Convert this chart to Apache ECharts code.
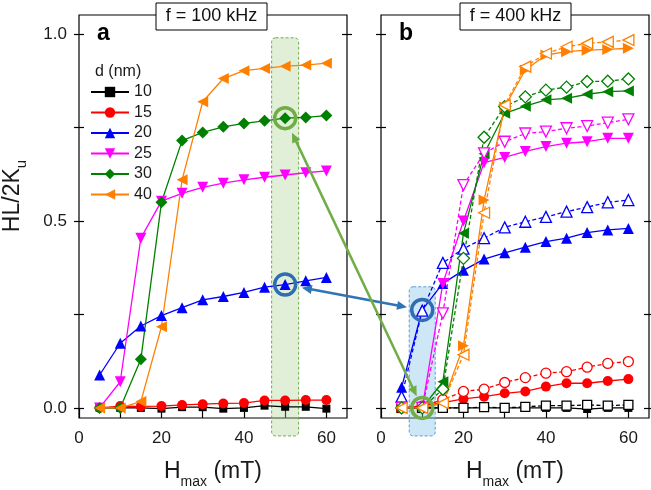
<!DOCTYPE html>
<html><head><meta charset="utf-8">
<script src="https://cdn.jsdelivr.net/npm/echarts@6/dist/echarts.min.js"></script>
<style>html,body{margin:0;padding:0;background:#fff}#c{width:651px;height:490px}</style>
</head><body><div id="c"></div>
<script>
// ---------- data ----------
const X = [5,10,15,20,25,30,35,40,45,50,55,60];
const xTicks = [0,10,20,30,40,50,60];
const xLabels = [0,20,40,60];
const yTicks = [0,0.25,0.5,0.75,1.0];
const yLabels = [0,0.5,1.0];
const legendNames = ['10','15','20','25','30','40'];
const legendTitle = 'd (nm)';
const panelTitles = ['f = 100 kHz','f = 400 kHz'];
const panelLetters = ['a','b'];

// panel a : f = 100 kHz
const a10 = [0, 0, 0, -0.002, 0.002, 0.002, -0.002, 0, 0.006, 0.003, 0.003, -0.002];
const a15 = [0, 0.005, 0.004, 0.005, 0.008, 0.010, 0.012, 0.013, 0.020, 0.020, 0.021, 0.021];
const a20 = [0.088, 0.173, 0.219, 0.247, 0.268, 0.289, 0.298, 0.309, 0.323, 0.330, 0.340, 0.349];
const a25 = [0, 0.070, 0.454, 0.553, 0.574, 0.590, 0.601, 0.610, 0.617, 0.623, 0.629, 0.634];
const a30 = [0, 0, 0.130, 0.550, 0.715, 0.737, 0.752, 0.761, 0.768, 0.775, 0.777, 0.782];
const a40 = [0, 0, 0.017, 0.217, 0.610, 0.819, 0.881, 0.902, 0.908, 0.914, 0.917, 0.922];

// panel b : f = 400 kHz (solid = filled symbols, dashed = open symbols)
const b10s = [0, 0, 0, 0, 0, 0, 0, 0, 0, -0.003, 0, 0];
const b10d = [0, 0, 0, 0, 0.002, 0, 0.003, 0.006, 0.006, 0.008, 0.006, 0.008];
const b15s = [0, 0.005, 0.014, 0.024, 0.030, 0.039, 0.044, 0.057, 0.066, 0.066, 0.072, 0.077];
const b15d = [0, 0.005, 0.022, 0.044, 0.050, 0.068, 0.081, 0.093, 0.097, 0.109, 0.119, 0.124];
const b20s = [0.055, 0.262, 0.333, 0.368, 0.398, 0.415, 0.430, 0.445, 0.454, 0.469, 0.476, 0.480];
const b20d = [0.030, 0.260, 0.388, 0.426, 0.454, 0.483, 0.498, 0.511, 0.525, 0.537, 0.550, 0.556];
const b25s = [0, 0, 0.333, 0.500, 0.656, 0.670, 0.686, 0.699, 0.708, 0.712, 0.721, 0.721];
const b25d = [0, 0, 0.253, 0.596, 0.681, 0.712, 0.734, 0.739, 0.748, 0.754, 0.763, 0.772];
const b30s = [0, 0, 0.070, 0.467, 0.680, 0.788, 0.807, 0.824, 0.828, 0.839, 0.846, 0.848];
const b30d = [0, 0, 0.050, 0.400, 0.724, 0.806, 0.832, 0.850, 0.858, 0.873, 0.874, 0.880];
const b40s = [0, 0, 0.013, 0.166, 0.556, 0.805, 0.904, 0.944, 0.953, 0.957, 0.959, 0.962];
const b40d = [0, 0, 0.013, 0.142, 0.522, 0.810, 0.913, 0.948, 0.966, 0.975, 0.979, 0.984];

// highlighted points: [grid, x, y]
const hlBlue = [[0, 50, 0.330], [1, 10, 0.262]];
const hlGreen = [[0, 50, 0.775], [1, 10, 0.0]];

// ---------- styling ----------
const FF = '"Liberation Sans", Arial, Helvetica, sans-serif';
const C = {k:'#000000', r:'#ff0000', b:'#0000ff', m:'#ff00ff', g:'#008000', o:'#ff8000'};
const GRID_TOP = 15, GRID_H = 403, GRID_W = 268;
const gridLefts = [79, 381];

const chart = echarts.init(document.getElementById('c'), null, {renderer:'canvas'});

function pairs(v){ return X.map((x,i)=>[x, v[i]]); }
function mk(name, g, vals, color, symbol, rot, size, open, dashed){
  return {
    name, type:'line', xAxisIndex:g, yAxisIndex:2*g, data:pairs(vals),
    symbol, symbolSize:size, symbolRotate:rot||0, showSymbol:true,
    lineStyle:{color, width:1.3, type: dashed ? [4,2.5] : 'solid'},
    itemStyle: open ? {color:'#ffffff', borderColor:color, borderWidth:1.3} : {color, borderColor:color, borderWidth:0},
    emphasis:{disabled:true}, animation:false, z: dashed ? 3 : 2
  };
}

const series = [
  mk('10',0,a10,C.k,'rect',0,8),
  mk('15',0,a15,C.r,'circle',0,10),
  mk('20',0,a20,C.b,'triangle',0,11),
  mk('25',0,a25,C.m,'triangle',180,11),
  mk('30',0,a30,C.g,'diamond',0,12),
  mk('40',0,a40,C.o,'triangle',90,11),

  mk('b10s',1,b10s,C.k,'rect',0,8,false,false),
  mk('b10d',1,b10d,C.k,'rect',0,9,true,true),
  mk('b15s',1,b15s,C.r,'circle',0,10,false,false),
  mk('b15d',1,b15d,C.r,'circle',0,10,true,true),
  mk('b20s',1,b20s,C.b,'triangle',0,11,false,false),
  mk('b20d',1,b20d,C.b,'triangle',0,11,true,true),
  mk('b25s',1,b25s,C.m,'triangle',180,11,false,false),
  mk('b25d',1,b25d,C.m,'triangle',180,11,true,true),
  mk('b30s',1,b30s,C.g,'triangle',90,11,false,false),
  mk('b30d',1,b30d,C.g,'diamond',0,12,true,true),
  mk('b40s',1,b40s,C.o,'triangle',-90,11,false,false),
  mk('b40d',1,b40d,C.o,'triangle',90,11,true,true)
];

const grids = gridLefts.map(l=>({left:l, top:GRID_TOP, width:GRID_W, height:GRID_H, show:true,
  borderColor:'#000', borderWidth:1.2, backgroundColor:'transparent'}));

const xAxes = [0,1].map(g=>({
  gridIndex:g, type:'value', min:0, max:65, position:'bottom', offset:-5,
  axisLine:{show:false}, splitLine:{show:false},
  axisTick:{show:true, inside:false, length:10, customValues:xTicks, lineStyle:{color:'#000', width:1.2}},
  axisLabel:{show:true, customValues:xLabels, margin:17, fontSize:17, color:'#1a1a1a', fontFamily:FF}
}));
const yAxes = [];
[0,1].forEach(g=>{
  yAxes.push({gridIndex:g, type:'value', min:-0.027, max:1.051, position:'left', offset:-5,
    axisLine:{show:false}, splitLine:{show:false},
    axisTick:{show:true, inside:false, length:10, customValues:yTicks, lineStyle:{color:'#000', width:1.2}},
    axisLabel:{show:g===0, customValues:yLabels, margin:17, fontSize:17, color:'#1a1a1a', fontFamily:FF,
      formatter:v=>Number(v).toFixed(1)}});
  yAxes.push({gridIndex:g, type:'value', min:-0.027, max:1.051, position:'right', offset:-5,
    axisLine:{show:false}, splitLine:{show:false},
    axisTick:{show:true, inside:false, length:10, customValues:yTicks, lineStyle:{color:'#000', width:1.2}},
    axisLabel:{show:false}});
});

chart.setOption({
  animation:false,
  backgroundColor:'#ffffff',
  grid:grids, xAxis:xAxes, yAxis:yAxes, series,
  legend:{show:true, data:legendNames, orient:'vertical', left:90, top:84, padding:0,
    itemWidth:38, itemHeight:13, itemGap:4.5, selectedMode:false,
    textStyle:{fontSize:16, lineHeight:16, color:'#1a1a1a', fontFamily:FF}}
});

// ---------- annotations ----------
const mctx = document.createElement('canvas').getContext('2d');
function tw(t, fs, bold){ mctx.font = (bold?'bold ':'') + fs + 'px ' + FF; return mctx.measureText(t).width; }
function P(g, x, y){ return chart.convertToPixel({xAxisIndex:g, yAxisIndex:2*g}, [x, y]); }

const G = [];
// highlight rectangles (behind series)
{
  const c0 = P(0, 50, 0.99), b0 = P(0, 50, -0.075);
  G.push({type:'rect', z:1, shape:{x:c0[0]-13.5, y:c0[1], width:27, height:b0[1]-c0[1], r:4},
    style:{fill:'rgba(169,209,142,0.35)', stroke:'#70ad47', lineWidth:1, lineDash:[3,2]}});
  const c1 = P(1, 10, 0.324), b1 = P(1, 10, -0.075);
  G.push({type:'rect', z:1, shape:{x:c1[0]-13, y:c1[1], width:26, height:b1[1]-c1[1], r:4},
    style:{fill:'rgba(130,195,235,0.4)', stroke:'#5b9bd5', lineWidth:1, lineDash:[3,2]}});
}
// circles
const circ = (p, color)=>({type:'circle', z:20, shape:{cx:p[0], cy:p[1], r:10.5}, style:{fill:'none', stroke:color, lineWidth:3.5}});
const pb = hlBlue.map(h=>P(h[0],h[1],h[2]));
const pg = hlGreen.map(h=>P(h[0],h[1],h[2]));
G.push(circ(pb[0],'#2e6db4'), circ(pb[1],'#2e6db4'), circ(pg[0],'#70ad47'), circ(pg[1],'#70ad47'));
// double-headed arrows
function arrow(p1, p2, color, g1, g2){
  const dx=p2[0]-p1[0], dy=p2[1]-p1[1], L=Math.hypot(dx,dy), ux=dx/L, uy=dy/L, nx=-uy, ny=ux;
  const a=[p1[0]+ux*g1, p1[1]+uy*g1], b=[p2[0]-ux*g2, p2[1]-uy*g2];
  const hl=10, hw=4.5;
  const head=(t,sx,sy)=>({type:'polygon', z:21, shape:{points:[t,[t[0]+sx*hl+nx*hw, t[1]+sy*hl+ny*hw],[t[0]+sx*hl-nx*hw, t[1]+sy*hl-ny*hw]]}, style:{fill:color}});
  G.push({type:'line', z:21, shape:{x1:a[0]+ux*hl*0.8, y1:a[1]+uy*hl*0.8, x2:b[0]-ux*hl*0.8, y2:b[1]-uy*hl*0.8}, style:{stroke:color, lineWidth:2.5}});
  G.push(head(a, ux, uy), head(b, -ux, -uy));
}
arrow(pb[0], pb[1], '#2e75b6', 17, 15.5);
arrow(pg[0], pg[1], '#70ad47', 16, 13);

// panel title boxes and letters
gridLefts.forEach((l,g)=>{
  const cx = l + GRID_W/2 - 1.5 + (g===1 ? 2 : 0);
  G.push({type:'rect', z:30, shape:{x:cx-55.5, y:3, width:111, height:27}, style:{fill:'#fff', stroke:'#000', lineWidth:1}});
  G.push({type:'text', z:31, style:{x:cx, y:16.5, text:panelTitles[g], font:'18px '+FF, fill:'#111', align:'center', verticalAlign:'middle'}});
  G.push({type:'text', z:31, style:{x:l+18, y:34, text:panelLetters[g], font:'bold 23px '+FF, fill:'#000', align:'left', verticalAlign:'middle'}});
});
// legend title
G.push({type:'text', z:31, style:{x:95, y:72, text:legendTitle, font:'16px '+FF, fill:'#1a1a1a', align:'left', verticalAlign:'middle'}});

// x axis titles with subscript
gridLefts.forEach(l=>{
  const w1 = tw('H',23), w2 = tw('max',14), w3 = tw(' (mT)',23);
  let x = l + GRID_W/2 - (w1+w2+w3)/2;
  const base = 480;
  G.push({type:'text', z:31, style:{x, y:base-0.35*23, text:'H', font:'23px '+FF, fill:'#1a1a1a', verticalAlign:'middle'}});
  G.push({type:'text', z:31, style:{x:x+w1, y:base+7-0.35*14, text:'max', font:'14px '+FF, fill:'#1a1a1a', verticalAlign:'middle'}});
  G.push({type:'text', z:31, style:{x:x+w1+w2, y:base-0.35*23, text:' (mT)', font:'23px '+FF, fill:'#1a1a1a', verticalAlign:'middle'}});
});
// y axis title (rotated)
{
  const w1 = tw('HL/2K',23), w2 = tw('u',15);
  const cy = 196, startY = cy + (w1+w2)/2;
  G.push({type:'group', z:31, x:21, y:startY, rotation:Math.PI/2, children:[
    {type:'text', z:31, style:{x:0, y:-0.35*23, text:'HL/2K', font:'23px '+FF, fill:'#1a1a1a', verticalAlign:'middle'}},
    {type:'text', z:31, style:{x:w1, y:6-0.35*15, text:'u', font:'15px '+FF, fill:'#1a1a1a', verticalAlign:'middle'}}
  ]});
}
chart.setOption({graphic:{elements:G}});
</script></body></html>
